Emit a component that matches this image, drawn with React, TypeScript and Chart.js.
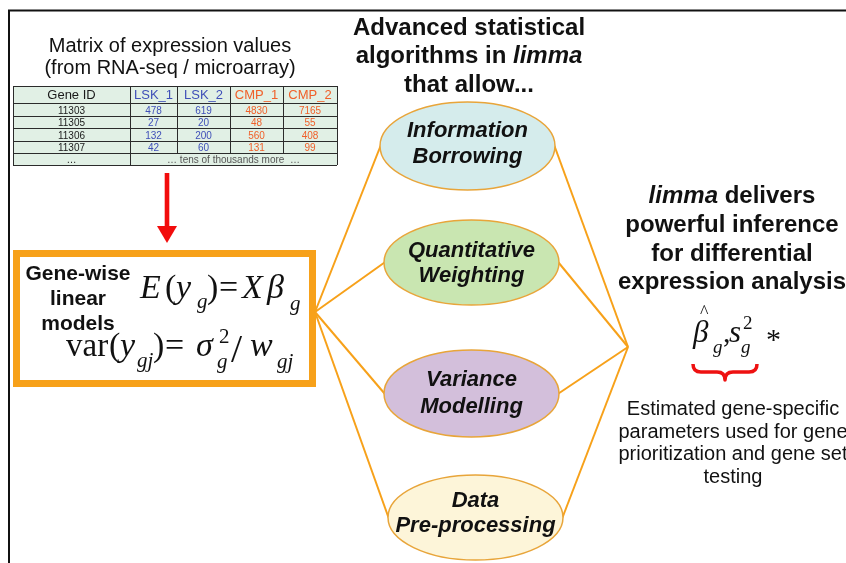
import React, { useEffect, useRef } from "react";
import { Chart, registerables } from "chart.js";

Chart.register(...registerables);

// ---------- data ----------
const tableHeader = ["Gene ID", "LSK_1", "LSK_2", "CMP_1", "CMP_2"];
const geneIds = ["11303", "11305", "11306", "11307"];
const lsk1 = [478, 27, 132, 42];
const lsk2 = [619, 20, 200, 60];
const cmp1 = [4830, 48, 560, 131];
const cmp2 = [7165, 55, 408, 99];
const moreRowText = "… tens of thousands more  …";

const matrixTitle = ["Matrix of expression values", "(from RNA-seq / microarray)"];
const modelTitle = ["Gene-wise", "linear", "models"];
const methodLabels = [
  ["Information", "Borrowing"],
  ["Quantitative", "Weighting"],
  ["Variance", "Modelling"],
  ["Data", "Pre-processing"],
];
const methodColors = ["#d5ecec", "#c9e6b1", "#d3bfdb", "#fdf5d9"];
const resultTitle = ["limma| delivers", "powerful inference", "for differential", "expression analysis"];
const resultNote = [
  "Estimated gene-specific",
  "parameters used for gene",
  "prioritization and gene set",
  "testing",
];
const topTitle = ["Advanced statistical", "algorithms in |limma", "that allow..."];

// ---------- layout (diagram coordinates) ----------
const nodeCx = [467.5, 471.5, 471.5, 475.5];
const nodeCy = [146, 262.5, 393.5, 517.5];
const nodeRx = [87.5, 87.5, 87.5, 87.5];
const nodeRy = [44, 42.5, 43.5, 42.5];
const nodeTextY = [
  [137, 163],
  [257, 282],
  [386, 413],
  [507, 532],
];
const leftAnchor = { x: 315, y: 312 };
const rightAnchor = { x: 628, y: 347 };

const ORANGE = "#f7a11a";
const SANS = "Arial, 'Liberation Sans', sans-serif";
const SERIF = "'Times New Roman', 'Liberation Serif', serif";

function buildDatasets() {
  const ds: any[] = [];
  for (let i = 0; i < nodeCx.length; i++) {
    ds.push({
      data: [
        { x: leftAnchor.x, y: leftAnchor.y },
        { x: nodeCx[i] - nodeRx[i] + 0.5, y: nodeCy[i] },
      ],
    });
    ds.push({
      data: [
        { x: nodeCx[i] + nodeRx[i] - 0.5, y: nodeCy[i] },
        { x: rightAnchor.x, y: rightAnchor.y },
      ],
    });
  }
  return ds.map((d) => ({
    ...d,
    showLine: true,
    borderColor: ORANGE,
    borderWidth: 2,
    pointRadius: 0,
    fill: false,
  }));
}

const diagramPlugin = {
  id: "diagram",
  beforeDatasetsDraw(chart: any) {
    const ctx: CanvasRenderingContext2D = chart.ctx;
    const X = (v: number) => chart.scales.x.getPixelForValue(v);
    const Y = (v: number) => chart.scales.y.getPixelForValue(v);
    ctx.save();

    // frame
    ctx.strokeStyle = "#111";
    ctx.lineWidth = 2;
    ctx.beginPath();
    ctx.moveTo(X(9), Y(563));
    ctx.lineTo(X(9), Y(10.5));
    ctx.lineTo(X(846), Y(10.5));
    ctx.stroke();

    // matrix title
    ctx.fillStyle = "#111";
    ctx.font = `20px ${SANS}`;
    ctx.textAlign = "center";
    ctx.textBaseline = "alphabetic";
    ctx.fillText(matrixTitle[0], X(170), Y(52));
    ctx.fillText(matrixTitle[1], X(170), Y(74));

    // table
    const colEdges = [13, 130, 177, 230, 283, 337];
    const rowEdges = [86, 103, 116, 128, 141, 153, 165];
    ctx.fillStyle = "#e1f0e5";
    ctx.fillRect(X(13), Y(86), X(337) - X(13), Y(165) - Y(86));
    ctx.strokeStyle = "#2b2b2b";
    ctx.lineWidth = 1;
    ctx.beginPath();
    for (const r of rowEdges) {
      ctx.moveTo(X(13), Math.round(Y(r)) + 0.5);
      ctx.lineTo(X(337), Math.round(Y(r)) + 0.5);
    }
    colEdges.forEach((c, i) => {
      const bottom = i === 0 || i === 1 || i === colEdges.length - 1 ? 165 : 153;
      ctx.moveTo(Math.round(X(c)) + 0.5, Y(86));
      ctx.lineTo(Math.round(X(c)) + 0.5, Y(bottom));
    });
    ctx.stroke();
    const colCenter = (i: number) => X((colEdges[i] + colEdges[i + 1]) / 2);
    const colColors = ["#1a1a1a", "#3f4fb8", "#3f4fb8", "#f0602a", "#f0602a"];
    ctx.font = `13px ${SANS}`;
    tableHeader.forEach((h, i) => {
      ctx.fillStyle = colColors[i];
      ctx.fillText(h, colCenter(i), Y(99));
    });
    ctx.font = `10px ${SANS}`;
    const cols = [geneIds, lsk1, lsk2, cmp1, cmp2];
    for (let r = 0; r < geneIds.length; r++) {
      const base = (rowEdges[r + 1] + rowEdges[r + 2]) / 2 + 4;
      cols.forEach((col, i) => {
        ctx.fillStyle = colColors[i];
        ctx.fillText(String(col[r]), colCenter(i), Y(base));
      });
    }
    ctx.fillStyle = "#1a1a1a";
    ctx.fillText("…", colCenter(0), Y(163));
    ctx.fillStyle = "#555";
    ctx.fillText(moreRowText, X((130 + 337) / 2), Y(163));

    // red arrow
    ctx.fillStyle = "#f20c0c";
    ctx.fillRect(X(164.7), Y(173), X(169.3) - X(164.7), Y(228) - Y(173));
    ctx.beginPath();
    ctx.moveTo(X(157), Y(226));
    ctx.lineTo(X(177), Y(226));
    ctx.lineTo(X(167), Y(243));
    ctx.closePath();
    ctx.fill();

    // orange model box
    ctx.strokeStyle = ORANGE;
    ctx.lineWidth = 7;
    ctx.strokeRect(X(16.5), Y(253.5), X(312.5) - X(16.5), Y(383.5) - Y(253.5));

    ctx.fillStyle = "#111";
    ctx.font = `bold 21px ${SANS}`;
    ctx.textAlign = "center";
    ctx.fillText(modelTitle[0], X(78), Y(280));
    ctx.fillText(modelTitle[1], X(78), Y(305));
    ctx.fillText(modelTitle[2], X(78), Y(330));

    // formulas
    ctx.textAlign = "left";
    const g = (t: string, x: number, y: number, size: number, italic = false) => {
      ctx.font = `${italic ? "italic " : ""}${size}px ${SERIF}`;
      ctx.fillText(t, X(x), Y(y));
    };
    // E(y_g) = X beta_g
    g("E", 140, 298, 34, true);
    g("(", 165, 298, 34);
    g("y", 176, 298, 34, true);
    g("g", 197, 308, 21, true);
    g(")", 207, 298, 34);
    g("=", 219, 298, 34);
    g("X", 242, 298, 34, true);
    g("β", 267, 298, 34, true);
    g("g", 290, 310, 21, true);
    // var(y_gj) = sigma^2_g / w_gj
    g("var", 66, 356, 33);
    g("(", 109, 356, 34);
    g("y", 120, 356, 34, true);
    g("gj", 137, 367, 21, true);
    g(")", 153, 356, 34);
    g("=", 165, 356, 34);
    g("σ", 196, 356, 34, true);
    g("2", 219, 343, 21);
    g("g", 217, 368, 21, true);
    g("/", 231, 362, 40);
    g("w", 250, 356, 34, true);
    g("gj", 277, 368, 21, true);

    ctx.restore();
  },
  afterDatasetsDraw(chart: any) {
    const ctx: CanvasRenderingContext2D = chart.ctx;
    const X = (v: number) => chart.scales.x.getPixelForValue(v);
    const Y = (v: number) => chart.scales.y.getPixelForValue(v);
    ctx.save();

    const drawSegs = (segs: { t: string; it: boolean }[], cx: number, y: number, size: number) => {
      let total = 0;
      const widths = segs.map((s) => {
        ctx.font = `${s.it ? "italic " : ""}bold ${size}px ${SANS}`;
        const w = ctx.measureText(s.t).width;
        total += w;
        return w;
      });
      let x = X(cx) - total / 2;
      ctx.textAlign = "left";
      segs.forEach((s, i) => {
        ctx.font = `${s.it ? "italic " : ""}bold ${size}px ${SANS}`;
        ctx.fillText(s.t, x, Y(y));
        x += widths[i];
      });
    };

    // top title
    ctx.fillStyle = "#111";
    const topY = [35, 63, 92];
    topTitle.forEach((line, i) => {
      const p = line.split("|");
      const segs = p.length > 1 ? [{ t: p[0], it: false }, { t: p[1], it: true }] : [{ t: line, it: false }];
      drawSegs(segs, 469, topY[i], 24);
    });

    // ellipses
    for (let i = 0; i < nodeCx.length; i++) {
      ctx.beginPath();
      ctx.ellipse(X(nodeCx[i]), Y(nodeCy[i]), nodeRx[i], nodeRy[i], 0, 0, Math.PI * 2);
      ctx.fillStyle = methodColors[i];
      ctx.fill();
      ctx.strokeStyle = "#e8a53a";
      ctx.lineWidth = 1.5;
      ctx.stroke();
      ctx.fillStyle = "#111";
      ctx.font = `italic bold 22px ${SANS}`;
      ctx.textAlign = "center";
      ctx.fillText(methodLabels[i][0], X(nodeCx[i]), Y(nodeTextY[i][0]));
      ctx.fillText(methodLabels[i][1], X(nodeCx[i]), Y(nodeTextY[i][1]));
    }

    // result title
    const resY = [203, 232, 261, 289];
    resultTitle.forEach((line, i) => {
      const p = line.split("|");
      const segs = p.length > 1 ? [{ t: p[0], it: true }, { t: p[1], it: false }] : [{ t: line, it: false }];
      drawSegs(segs, 732, resY[i], 24);
    });

    // result formula
    ctx.textAlign = "left";
    const g = (t: string, x: number, y: number, size: number, italic = false) => {
      ctx.font = `${italic ? "italic " : ""}${size}px ${SERIF}`;
      ctx.fillText(t, X(x), Y(y));
    };
    g("β", 693, 342, 31, true);
    g("^", 700, 318, 18);
    g("g", 713, 353, 19, true);
    g(",", 723, 342, 30);
    g("s", 729, 342, 31, true);
    g("2", 743, 329, 19);
    g("g", 741, 353, 19, true);
    g("*", 766, 349, 30);

    // red brace
    ctx.strokeStyle = "#ee1111";
    ctx.lineWidth = 3.5;
    ctx.lineJoin = "round";
    ctx.beginPath();
    ctx.moveTo(X(693), Y(364));
    ctx.quadraticCurveTo(X(693), Y(372), X(701), Y(372));
    ctx.lineTo(X(717), Y(372));
    ctx.quadraticCurveTo(X(725), Y(372), X(725), Y(380));
    ctx.quadraticCurveTo(X(725), Y(372), X(733), Y(372));
    ctx.lineTo(X(749), Y(372));
    ctx.quadraticCurveTo(X(757), Y(372), X(757), Y(364));
    ctx.stroke();

    // note text
    ctx.fillStyle = "#111";
    ctx.font = `20px ${SANS}`;
    ctx.textAlign = "center";
    const noteY = [415, 438, 460, 483];
    resultNote.forEach((t, i) => ctx.fillText(t, X(733), Y(noteY[i])));

    ctx.restore();
  },
};

export default function App() {
  const ref = useRef<HTMLCanvasElement | null>(null);
  useEffect(() => {
    if (!ref.current) return;
    const chart = new Chart(ref.current, {
      type: "scatter",
      data: { datasets: buildDatasets() },
      options: {
        animation: false,
        responsive: false,
        devicePixelRatio: 1,
        layout: { padding: 0 },
        plugins: { legend: { display: false }, tooltip: { enabled: false } },
        scales: {
          x: { type: "linear", min: 0, max: 846, display: false },
          y: { type: "linear", min: 0, max: 563, reverse: true, display: false },
        },
      },
      plugins: [diagramPlugin],
    } as any);
    return () => chart.destroy();
  }, []);
  return (
    <canvas
      ref={ref}
      width={846}
      height={563}
      style={{ position: "fixed", left: 0, top: 0, width: 846, height: 563, background: "#fff" }}
    />
  );
}
